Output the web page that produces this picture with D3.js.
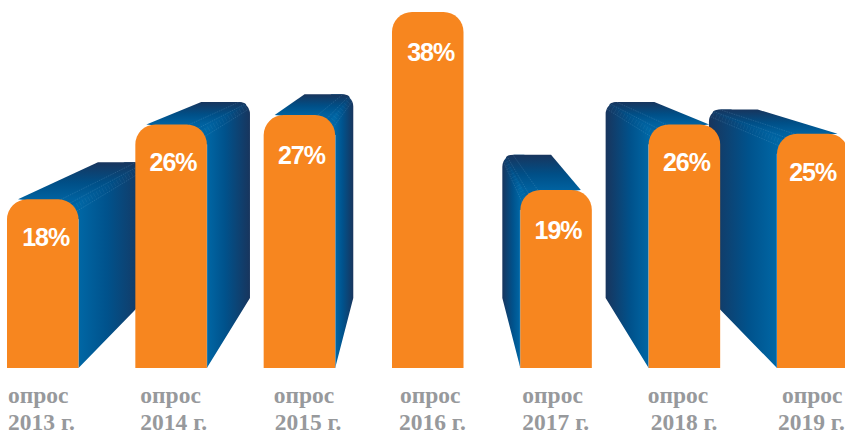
<!DOCTYPE html>
<html>
<head>
<meta charset="utf-8">
<style>
  html, body { margin: 0; padding: 0; background: #fff; }
  svg { display: block; }
</style>
<script src="https://d3js.org/d3.v7.min.js"></script>
</head>
<body>
<svg id="chart" width="845" height="432"></svg>
<script>
// Survey results by year
const surveyYears = [2013, 2014, 2015, 2016, 2017, 2018, 2019];
const surveyShares = [18, 26, 27, 38, 19, 26, 25];
const captionWord = "опрос";
const captionSuffix = " г.";

// Hand placement of captions and value labels relative to their bars
const captionNudgeX = [1, 5, 10, 8, 2, -1, 5];
const yearNudgeX = [1, 5, 11, 7, 2, 2, 1];
const valueNudgeX = [3, 2, 2, 3, 2, 2, 0];
const valueNudgeY = [0, 0, 2, 2, 2, 0, 0];

const svg = d3.select("#chart");
const defs = svg.append("defs");

const x = d3.scaleBand()
  .domain(surveyYears)
  .range([7, 848.5])
  .paddingInner(1 - 71.5 / 128.33)
  .paddingOuter(0);

const y = d3.scaleLinear().domain([0, 38]).range([368, 12]);

// One-point perspective used to extrude each bar
const vanish = [428, 9];
const depth = 0.195;
const project = (px, py) => [px + (vanish[0] - px) * depth, py + (vanish[1] - py) * depth];

const frontRadius = 20;
const backRadius = 12;
const tangentInset = 11;
const base = y(0);

const BLUE_NEAR = "#0067a5";
const BLUE_MID = "#00528c";
const BLUE_FAR = "#18355d";

function addGradient(id, x1, y1, x2, y2, stops) {
  const g = defs.append("linearGradient")
    .attr("id", id)
    .attr("gradientUnits", "userSpaceOnUse")
    .attr("x1", x1).attr("y1", y1).attr("x2", x2).attr("y2", y2);
  stops.forEach(([o, c]) => g.append("stop").attr("offset", o).attr("stop-color", c));
}

const sides = svg.append("g").attr("class", "extrusions");
const fronts = svg.append("g").attr("class", "fronts");
const labels = svg.append("g").attr("class", "values");
const captions = svg.append("g").attr("class", "captions");

surveyYears.forEach((year, i) => {
  const L = x(year), R = L + x.bandwidth(), top = y(surveyShares[i]);

  // A bar that straddles the vanishing point shows no extruded faces
  if (!(vanish[0] > L && vanish[0] < R)) {
    const leftOfCentre = R < vanish[0];
    const outer = leftOfCentre ? R : L;
    const inner = leftOfCentre ? L : R;
    const dir = leftOfCentre ? 1 : -1;

    const backBottom = project(outer, base);
    const backCorner = project(outer, top);
    const backInner = project(inner + dir * tangentInset, top);

    // Side face
    addGradient("side" + year, outer, 0, backBottom[0], 0, [[0, BLUE_NEAR], [0.42, BLUE_MID], [1, BLUE_FAR]]);
    const side = d3.path();
    side.moveTo(outer, base);
    side.lineTo(backBottom[0], backBottom[1]);
    side.arcTo(backCorner[0], backCorner[1], backCorner[0] - dir * backRadius, backCorner[1], backRadius);
    side.lineTo(backCorner[0] - dir * 22, backCorner[1]);
    side.lineTo(outer - dir * frontRadius, top);
    side.lineTo(outer - dir * frontRadius, top + frontRadius);
    side.lineTo(outer, top + frontRadius);
    side.closePath();
    sides.append("path").attr("d", side.toString()).attr("fill", `url(#side${year})`);

    // Top face
    addGradient("top" + year, 0, top, 0, backCorner[1], [[0, "#0062a0"], [0.45, "#004f87"], [1, BLUE_FAR]]);
    const diagFront = [outer - dir * frontRadius * 0.3, top + frontRadius * 0.3];
    const diagBack = [backCorner[0] - dir * backRadius * 0.3, backCorner[1] + backRadius * 0.3];
    const topFace = d3.path();
    topFace.moveTo(inner + dir * tangentInset, top);
    topFace.lineTo(backInner[0], backInner[1]);
    topFace.lineTo(backCorner[0] - dir * backRadius, backCorner[1]);
    topFace.quadraticCurveTo(diagBack[0], backCorner[1], diagBack[0], diagBack[1]);
    topFace.lineTo(diagFront[0], diagFront[1]);
    topFace.closePath();
    sides.append("path").attr("d", topFace.toString()).attr("fill", `url(#top${year})`);

    // Fine facet lines along the rounded edge
    const backR = backRadius / (1 - depth);
    const arcPoint = (a, r) => [outer - dir * r + dir * r * Math.sin(a), top + r - r * Math.cos(a)];
    const facet = a => {
      const f = arcPoint(a, frontRadius);
      const b = project(...arcPoint(a, backR));
      return `M${f[0]},${f[1]}L${b[0]},${b[1]}`;
    };
    [0.12, 0.62, 1.15].forEach(a => {
      sides.append("path").attr("d", facet(a))
        .attr("fill", "none").attr("stroke", "#8fc3e6")
        .attr("stroke-opacity", 0.3).attr("stroke-width", 0.6)
        .attr("stroke-dasharray", "1.5 1");
    });
    sides.append("path").attr("d", facet(0.9))
      .attr("fill", "none").attr("stroke", "#8fc3e6")
      .attr("stroke-opacity", 0.1).attr("stroke-width", 5)
      .attr("stroke-dasharray", "0.7 2.6");

    // Light rim where the side meets the front
    sides.append("line")
      .attr("x1", outer).attr("x2", outer)
      .attr("y1", top + frontRadius).attr("y2", base)
      .attr("stroke", "#7fb4d8").attr("stroke-opacity", 0.7).attr("stroke-width", 1);
  }

  // Front face with rounded upper corners
  const front = d3.path();
  front.moveTo(L, base);
  front.lineTo(L, top + frontRadius);
  front.arcTo(L, top, L + frontRadius, top, frontRadius);
  front.lineTo(R - frontRadius, top);
  front.arcTo(R, top, R, top + frontRadius, frontRadius);
  front.lineTo(R, base);
  front.closePath();
  fronts.append("path").attr("d", front.toString()).attr("fill", "#f7861f");

  // Value label
  labels.append("text")
    .attr("x", L + x.bandwidth() / 2 + valueNudgeX[i])
    .attr("y", top + 47 + valueNudgeY[i])
    .attr("text-anchor", "middle")
    .attr("font-family", "'Liberation Sans', Arial, sans-serif")
    .attr("font-weight", 700)
    .attr("font-size", 25)
    .attr("letter-spacing", -1)
    .attr("fill", "#fff")
    .text(surveyShares[i] + "%");

  // Two-line caption under the bar
  const cap = captions.append("g")
    .attr("font-family", "'Liberation Serif', 'Times New Roman', serif")
    .attr("font-weight", 700)
    .attr("font-size", 23.5)
    .attr("fill", "#97999c");
  cap.append("text").attr("x", L + captionNudgeX[i]).attr("y", 403).text(captionWord);
  cap.append("text").attr("x", L + yearNudgeX[i]).attr("y", 430).text(year + captionSuffix);
});
</script>
</body>
</html>
